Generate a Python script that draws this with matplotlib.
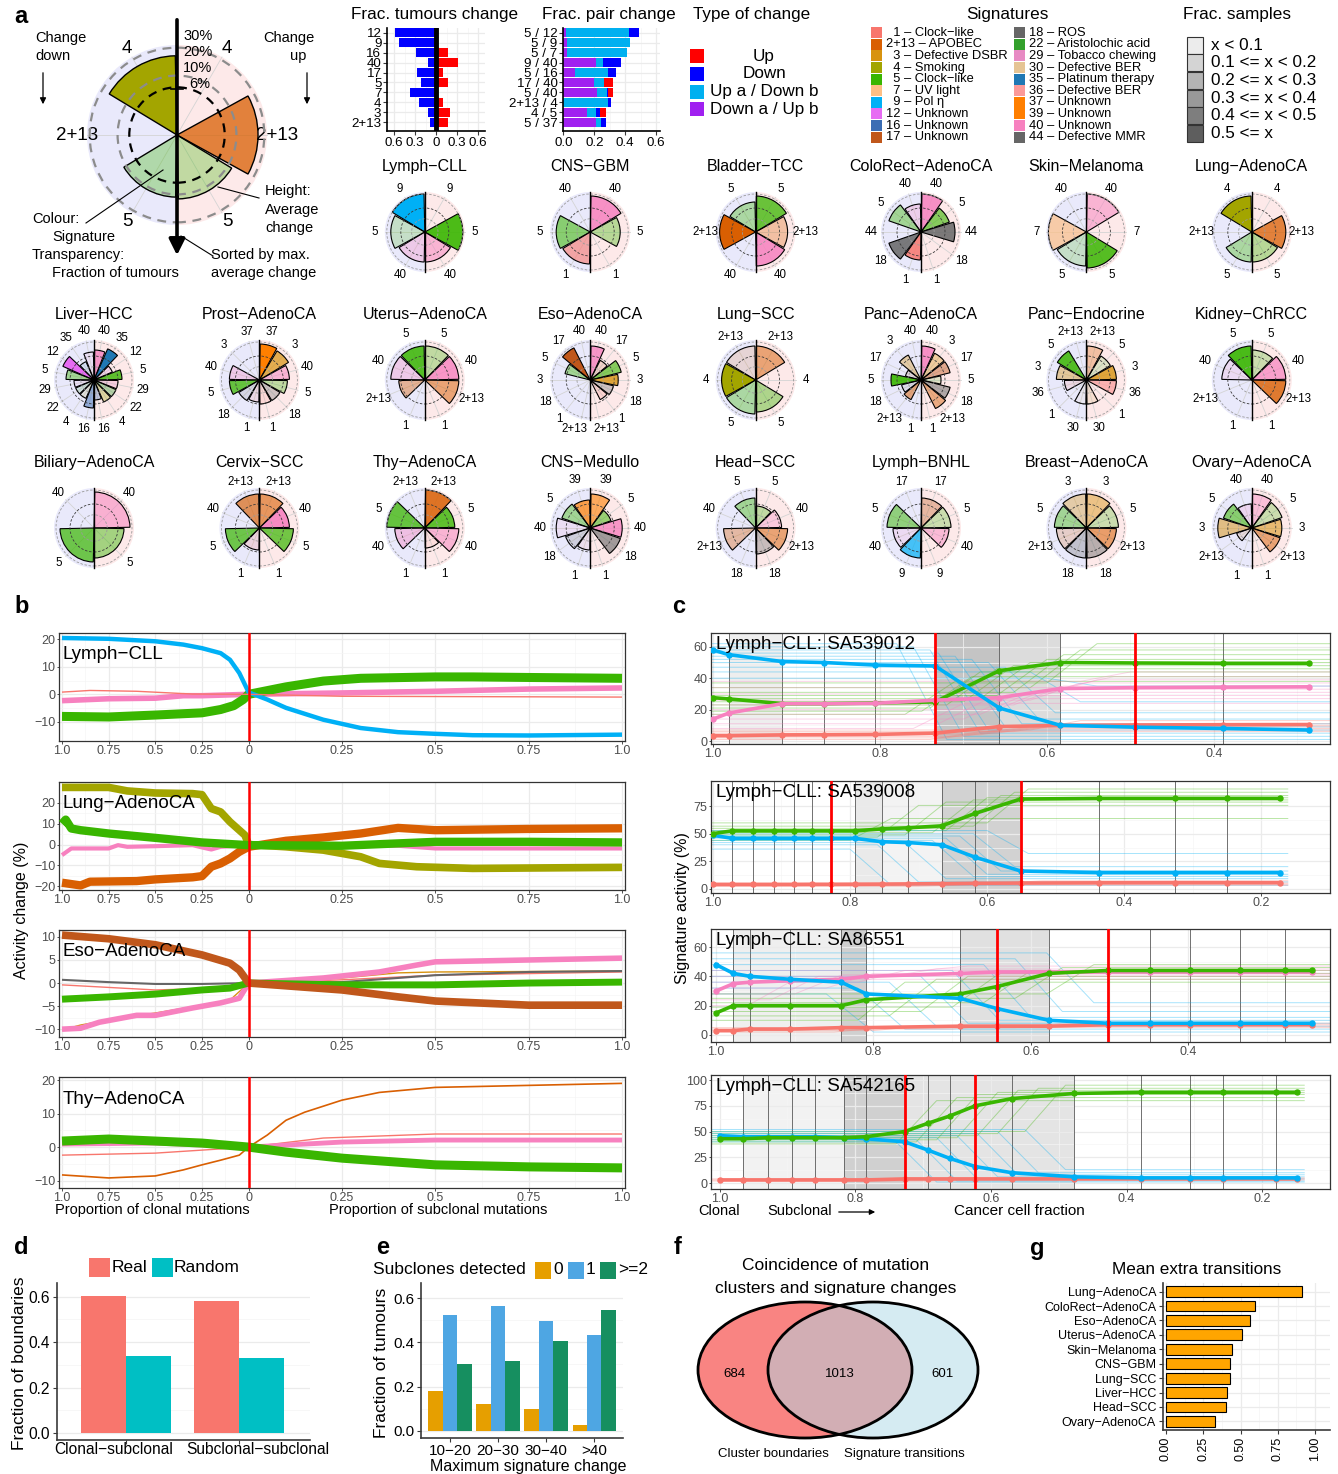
import numpy as np
import matplotlib
matplotlib.use("Agg")
import matplotlib.pyplot as plt
from matplotlib.patches import Wedge, Circle, Rectangle, Ellipse
from matplotlib.colors import to_rgba

plt.rcParams['font.family'] = ['Liberation Sans', 'DejaVu Sans']
plt.rcParams['axes.unicode_minus'] = True

W, H = 1338, 1474
fig = plt.figure(figsize=(W / 100, H / 100), dpi=100)


def px_axes(x0, y0, x1, y1):
    # axes placed by pixel box (top-left origin)
    return fig.add_axes([x0 / W, 1 - y1 / H, (x1 - x0) / W, (y1 - y0) / H])


# ---------------------------------------------------------------- data
sig_colours = {
    "1": "#f8766d", "2+13": "#d95f02", "3": "#d8930f", "4": "#a3a500", "5": "#39b600",
    "7": "#fdbf85", "9": "#00b0f6", "12": "#e76bf3", "16": "#3b6db4", "17": "#c0571b",
    "18": "#666666", "22": "#33a02c", "29": "#e78ac3", "30": "#e5c494", "35": "#1f78b4",
    "36": "#fb9a99", "37": "#ff7f00", "39": "#ff7f00", "40": "#f781bf", "44": "#666666",
}
legend_sigs_1 = ["1", "2+13", "3", "4", "5", "7", "9", "12", "16", "17"]
legend_names_1 = ["Clock−like", "APOBEC", "Defective DSBR", "Smoking", "Clock−like",
                  "UV light", "Pol η", "Unknown", "Unknown", "Unknown"]
legend_sigs_2 = ["18", "22", "29", "30", "35", "36", "37", "39", "40", "44"]
legend_names_2 = ["ROS", "Aristolochic acid", "Tobacco chewing", "Defective BER",
                  "Platinum therapy", "Defective BER", "Unknown", "Unknown", "Unknown",
                  "Defective MMR"]

change_types = ["Up", "Down", "Up a / Down b", "Down a / Up b"]
change_colours = ["#ff0000", "#0000ff", "#00b0f0", "#a020f0"]

frac_sample_labels = ["x < 0.1", "0.1 <= x < 0.2", "0.2 <= x < 0.3", "0.3 <= x < 0.4",
                      "0.4 <= x < 0.5", "0.5 <= x"]
frac_sample_greys = ["#ececec", "#d4d4d4", "#b4b4b4", "#999999", "#7e7e7e", "#5e5e5e"]

# fraction of tumours with a signature change
tum_sigs = ["12", "9", "16", "40", "17", "5", "7", "4", "3", "2+13"]
tum_down = [-0.58, -0.53, -0.28, -0.11, -0.27, -0.21, -0.37, -0.25, -0.12, -0.08]
tum_up = [0.0, 0.03, 0.17, 0.31, 0.10, 0.17, 0.0, 0.10, 0.20, 0.17]

# fraction of paired changes
pair_labels = ["5 / 12", "5 / 9", "5 / 7", "9 / 40", "5 / 16", "17 / 40", "5 / 40",
               "2+13 / 4", "4 / 5", "5 / 37"]
pair_down_up = [0.015, 0.026, 0.02, 0.21, 0.073, 0.20, 0.215, 0.0, 0.15, 0.213]
pair_up_down = [0.411, 0.408, 0.39, 0.044, 0.213, 0.062, 0.069, 0.292, 0.06, 0.032]
pair_down = [0.064, 0.0, 0.0, 0.116, 0.052, 0.0, 0.006, 0.018, 0.027, 0.032]
pair_up = [0.0, 0.0, 0.0, 0.0, 0.0, 0.056, 0.028, 0.0, 0.04, 0.0]

# explanatory radar
big_sigs = ["4", "2+13", "5"]
big_up = [0.0, 0.9, 0.71]
big_up_alpha = [1.0, 0.75, 0.3]
big_down = [0.88, 0.0, 0.69]
big_down_alpha = [1.0, 1.0, 0.32]

# per tumour type radars
radar_titles = ["Lymph−CLL", "CNS−GBM", "Bladder−TCC", "ColoRect−AdenoCA", "Skin−Melanoma",
                "Lung−AdenoCA", "Liver−HCC", "Prost−AdenoCA", "Uterus−AdenoCA", "Eso−AdenoCA",
                "Lung−SCC", "Panc−AdenoCA", "Panc−Endocrine", "Kidney−ChRCC",
                "Biliary−AdenoCA", "Cervix−SCC", "Thy−AdenoCA", "CNS−Medullo", "Head−SCC",
                "Lymph−BNHL", "Breast−AdenoCA", "Ovary−AdenoCA"]
radar_sigs = [
    ["9", "5", "40"], ["40", "5", "1"], ["5", "2+13", "40"], ["40", "5", "44", "18", "1"],
    ["40", "7", "5"], ["4", "2+13", "5"],
    ["40", "35", "12", "5", "29", "22", "4", "16"], ["37", "3", "40", "5", "18", "1"],
    ["5", "40", "2+13", "1"], ["40", "17", "5", "3", "18", "1", "2+13"], ["2+13", "4", "5"],
    ["40", "3", "17", "5", "18", "2+13", "1"], ["2+13", "5", "3", "36", "1", "30"],
    ["5", "40", "2+13", "1"],
    ["40", "5"], ["2+13", "40", "5", "1"], ["2+13", "5", "40", "1"], ["39", "5", "40", "18", "1"],
    ["5", "40", "2+13", "18"], ["17", "5", "40", "9"], ["3", "5", "2+13", "18"],
    ["40", "5", "3", "2+13", "1"],
]
radar_up = [
    [0, 0.95, 0.75], [0.9, 0.75, 0], [0.9, 0.8, 0.85], [0.95, 0.75, 0.85, 0, 0],
    [0.95, 0, 0.9], [0, 0.85, 0.75],
    [0.75, 0.85, 0.5, 0.7, 0.6, 0.6, 0.6, 0.5], [0.9, 0.85, 0.75, 0.7, 0.6, 0.6],
    [0.85, 0.85, 0.85, 0], [0.85, 0.55, 0.8, 0.7, 0.6, 0.55, 0], [0.85, 0, 0.8],
    [0.85, 0.75, 0.75, 0.5, 0.75, 0.8, 0], [0.85, 0.7, 0.75, 0.75, 0, 0.6],
    [0.75, 0.85, 0.85, 0],
    [0.9, 0.75], [0.85, 0.75, 0.85, 0], [0.95, 0.75, 0.85, 0.5], [0.85, 0.55, 0.8, 0.8, 0],
    [0.55, 0.65, 0.8, 0.65], [0.75, 0.75, 0.7, 0], [0.85, 0.8, 0.75, 0.75],
    [0.85, 0.8, 0.75, 0.75, 0],
]
radar_up_alpha = [
    [0, 0.9, 0.5], [0.85, 0.35, 0], [0.75, 0.3, 0.85], [0.85, 0.6, 0.85, 0, 0],
    [0.5, 0, 0.85], [0, 0.75, 0.35],
    [0.8, 1.0, 0.15, 0.8, 0.3, 0.35, 0.3, 0.3], [1.0, 0.7, 0.5, 0.3, 0.3, 0.15],
    [0.3, 0.8, 0.5, 0], [0.8, 0.15, 0.6, 0.8, 0.3, 0.2, 0], [0.5, 0, 0.4],
    [0.85, 0.35, 0.45, 0.15, 0.5, 0.45, 0], [0.3, 0.15, 0.8, 0.7, 0, 0.3],
    [0.25, 0.7, 0.8, 0],
    [0.55, 0.45], [0.6, 0.9, 0.7, 0], [0.85, 0.8, 0.5, 0.1], [0.6, 0.5, 0.8, 0.6, 0],
    [0.3, 0.3, 0.5, 0.35], [0.35, 0.25, 0.45, 0], [0.45, 0.25, 0.55, 0.45],
    [0.4, 0.25, 0.55, 0.5, 0],
]
radar_down = [
    [0.95, 0.85, 0.75], [0, 0.85, 0.8], [0.75, 0.9, 0], [0.7, 0.85, 0, 0.85, 0.7],
    [0, 0.95, 0.85], [0.9, 0, 0.75],
    [0.7, 0.5, 0.85, 0.7, 0.5, 0.5, 0.5, 0.7], [0, 0, 0.75, 0.75, 0.6, 0.55],
    [0.85, 0.85, 0.65, 0], [0, 0.9, 0.65, 0, 0, 0, 0], [0.85, 0.85, 0.85],
    [0, 0.7, 0.4, 0.75, 0.5, 0.55, 0], [0, 0.85, 0.75, 0.55, 0, 0.6],
    [0.85, 0.75, 0, 0],
    [0, 0.85], [0.85, 0, 0.85, 0.55], [0, 0.95, 0.75, 0], [0.7, 0.75, 0.85, 0.65, 0.55],
    [0.75, 0, 0.8, 0], [0, 0.85, 0.7, 0.75], [0.85, 0.8, 0.75, 0.75],
    [0.6, 0.75, 0.85, 0.4, 0],
]
radar_down_alpha = [
    [1.0, 0.2, 0.3], [0, 0.55, 0.6], [0.35, 1.0, 0], [0.25, 0.4, 0, 0.85, 0.85],
    [0, 0.7, 0.2], [1.0, 0, 0.35],
    [0.1, 0.1, 1.0, 0.4, 0.1, 0.15, 0.1, 0.5], [0, 0, 0.3, 0.75, 0.15, 0.15],
    [0.85, 0.3, 0.4, 0], [0, 1.0, 0.4, 0, 0, 0, 0], [0.15, 1.0, 0.35],
    [0, 0.35, 0.1, 0.9, 0.1, 0.5, 0], [0, 0.85, 0.4, 0.2, 0, 0.1],
    [0.9, 0.15, 0, 0],
    [0, 0.7], [0.65, 0, 0.7, 0.2], [0, 0.75, 0.4, 0], [0.7, 0.4, 0.1, 0.2, 0.1],
    [0.4, 0, 0.35, 0], [0, 0.5, 0.15, 0.7], [0.35, 0.4, 0.2, 0.3],
    [0.2, 0.55, 0.5, 0.1, 0],
]

# panel b: average activity change along clonal (left) and subclonal (right) mutations
# (signature, line width, clonal proportions, change, subclonal proportions, change)
b_lymph_cll = [
    ("40", 4.0, [1.0, 0.75, 0.5, 0.35, 0.25, 0.0], [-2.3, -1.6, -1.4, -0.5, -0.5, 0.0],
     [0.25, 0.5, 0.75, 1.0], [0.5, 1.1, 1.9, 2.3]),
    ("5", 6.5, [1.0, 0.75, 0.5, 0.25, 0.15, 0.08, 0.03, 0.0],
     [-8.0, -8.2, -7.5, -6.7, -5.5, -4.1, -1.9, 0.0],
     [0.1, 0.2, 0.3, 0.5, 0.6, 0.75, 1.0], [2.7, 4.8, 5.8, 6.3, 6.3, 6.1, 5.8]),
    ("9", 3.2, [1.0, 0.75, 0.5, 0.35, 0.25, 0.15, 0.1, 0.05, 0.0],
     [20.4, 20.1, 19.2, 18.0, 16.7, 14.9, 12.5, 7.7, 0.7],
     [0.05, 0.1, 0.2, 0.3, 0.4, 0.5, 0.6, 0.75, 1.0],
     [-1.9, -4.9, -9.2, -12.2, -13.7, -14.3, -14.8, -14.9, -14.6]),
    ("1", 1.0, [1.0, 0.85, 0.6, 0.3, 0.0], [0.8, 1.4, 1.1, 0.1, 0.0],
     [0.25, 1.0], [-0.7, -1.0]),
]
b_lung_adeno = [
    ("40", 3.0, [1.0, 0.95, 0.75, 0.7, 0.65, 0.5, 0.3, 0.25, 0.2, 0.15, 0.0],
     [-5.1, -1.9, -1.9, -0.3, -1.1, -0.8, -0.3, -1.4, -2.4, -1.1, -0.3],
     [0.4, 0.5, 1.0], [-0.6, -1.9, -1.9]),
    ("4", 5.5, [1.0, 0.75, 0.65, 0.5, 0.3, 0.25, 0.2, 0.15, 0.1, 0.05, 0.02, 0.0],
     [27.5, 27.5, 25.8, 24.8, 24.5, 24.0, 17.3, 15.7, 10.9, 6.9, 4.5, 0.0],
     [0.1, 0.2, 0.3, 0.35, 0.45, 0.6, 1.0], [-1.1, -2.7, -5.9, -9.1, -10.7, -11.5, -11.0]),
    ("2+13", 6.0, [1.0, 0.9, 0.85, 0.6, 0.5, 0.3, 0.25, 0.2, 0.15, 0.1, 0.05, 0.0],
     [-18.4, -19.7, -17.9, -17.6, -16.8, -15.8, -15.2, -10.7, -9.1, -6.7, -3.5, -1.1],
     [0.1, 0.2, 0.3, 0.4, 0.5, 0.75, 1.0], [1.8, 3.4, 5.3, 8.0, 6.9, 7.5, 7.8]),
    ("5", 6.0, [1.0, 0.98, 0.95, 0.9, 0.75, 0.5, 0.25, 0.0],
     [10.0, 12.0, 7.7, 6.9, 5.3, 3.2, 1.0, -0.3],
     [0.25, 0.5, 0.75, 1.0], [-0.6, 1.3, 1.3, 1.0]),
]
b_eso_adeno = [
    ("3", 1.0, [1.0, 0.9, 0.75, 0.5, 0.25, 0.1, 0.0], [-10.2, -9.1, -8.0, -6.5, -4.8, -3.7, 0.0],
     [0.25, 0.4, 0.5, 1.0], [1.1, 2.2, 2.4, 2.6]),
    ("1", 1.0, [1.0, 0.5, 0.15, 0.0], [-0.4, -1.5, -1.1, 0.0], [0.25, 0.5, 1.0], [0.7, 1.7, 2.4]),
    ("18", 1.5, [1.0, 0.75, 0.5, 0.25, 0.0], [0.7, 0.2, -0.2, -0.2, 0.0],
     [0.25, 0.5, 0.75, 1.0], [0.2, 1.7, 2.4, 2.6]),
    ("40", 4.0, [1.0, 0.9, 0.8, 0.6, 0.5, 0.3, 0.15, 0.05, 0.0],
     [-10.0, -9.8, -8.5, -7.0, -7.0, -5.4, -4.3, -3.3, 0.0],
     [0.2, 0.35, 0.45, 0.5, 0.75, 1.0], [1.1, 2.4, 3.9, 4.6, 5.0, 5.4]),
    ("5", 5.0, [1.0, 0.75, 0.5, 0.25, 0.1, 0.0], [-3.5, -3.0, -2.4, -1.5, -1.1, 0.0],
     [0.25, 0.5, 0.75, 1.0], [-0.4, -0.4, 0.0, 0.2]),
    ("17", 5.5, [1.0, 0.75, 0.5, 0.25, 0.1, 0.05, 0.0], [10.4, 9.6, 8.3, 6.1, 4.3, 2.8, 0.0],
     [0.25, 0.4, 0.5, 0.75, 1.0], [-1.5, -3.0, -3.9, -4.8, -4.8]),
]
b_thy_adeno = [
    ("2+13", 1.2, [1.0, 0.75, 0.5, 0.35, 0.25, 0.15, 0.05, 0.0],
     [-8.3, -9.2, -8.6, -6.8, -5.3, -3.9, -2.4, 0.0],
     [0.05, 0.1, 0.15, 0.25, 0.35, 0.5, 0.75, 1.0], [3.6, 8.0, 10.4, 14.0, 16.3, 17.8, 18.4, 19.0]),
    ("1", 1.0, [1.0, 0.5, 0.25, 0.0], [-2.4, -1.8, -0.9, 0.0], [0.2, 0.5, 1.0], [2.7, 3.9, 3.9]),
    ("40", 3.5, [1.0, 0.5, 0.0], [0.9, 1.2, 0.0], [0.25, 0.5, 1.0], [1.5, 2.1, 2.1]),
    ("5", 6.5, [1.0, 0.75, 0.5, 0.25, 0.0], [1.8, 2.4, 1.8, 1.2, 0.0],
     [0.1, 0.25, 0.5, 0.75, 1.0], [-1.5, -3.3, -5.3, -5.9, -6.2]),
]

# panel c: signature activity along cancer cell fraction for single tumours
c1_ccf = [1.0, 0.981, 0.917, 0.867, 0.806, 0.734, 0.657, 0.584, 0.494, 0.389, 0.286]
c1_sig9 = [58, 55, 50.6, 50, 48.4, 47.8, 21, 10, 8.8, 8, 7]
c1_sig5 = [27.6, 26.8, 23.8, 23.8, 24.2, 24.9, 44.8, 50, 49.7, 49.5, 49.5]
c1_sig40 = [14, 17.8, 23.8, 23.8, 24, 26, 27.6, 33.4, 34, 34.3, 34.5]
c1_sig1 = [3.4, 3.4, 3.9, 4, 4.2, 5, 9.2, 9.9, 10.2, 10.4, 10.5]
c1_boot = [
    ("9", [62, 60, 58, 56, 54, 52, 50, 47, 44, 40], [1, 3, 5, 7, 9, 11, 14, 18, 25, 35],
     [0.78, 0.76, 0.74, 0.73, 0.71, 0.69, 0.67, 0.65, 0.62, 0.60]),
    ("5", [17, 19, 21, 23, 25, 27, 29, 31, 34, 37], [38, 41, 44, 46, 48, 50, 52, 55, 58, 62],
     [0.77, 0.75, 0.74, 0.72, 0.70, 0.68, 0.66, 0.64, 0.62, 0.60]),
    ("40", [8, 11, 14, 17, 20, 23, 26, 30, 34, 38], [24, 27, 29, 31, 33, 35, 37, 39, 41, 44],
     [0.76, 0.73, 0.70, 0.68, 0.66, 0.64, 0.62, 0.60, 0.58, 0.56]),
    ("1", [1, 2, 3, 4, 5, 6, 7], [6, 7, 8, 9, 10, 11, 13], [0.74, 0.72, 0.70, 0.68, 0.66, 0.64, 0.62]),
]
c1_spans = [(0.981, 0.917, "#eeeeee"), (0.734, 0.657, "#c4c4c4"), (0.657, 0.584, "#dcdcdc")]
c1_red = [0.734, 0.494]

c2_ccf = [1.0, 0.972, 0.941, 0.911, 0.882, 0.855, 0.827, 0.793, 0.754, 0.715, 0.666, 0.617,
          0.551, 0.437, 0.326, 0.25, 0.173]
c2_sig5 = [50.2, 52.7, 52.7, 52.7, 52.7, 52.7, 52.7, 52.7, 54.5, 55.5, 57.3, 68.8, 81.8, 82.4,
           82.4, 82.4, 82.4]
c2_sig9 = [48.7, 45.9, 45.9, 45.9, 45.9, 45.9, 45.9, 45.9, 42.8, 42.0, 40.0, 28.5, 16.0, 14.6,
           14.6, 14.6, 14.6]
c2_sig1 = [3.7, 3.7, 3.7, 3.7, 3.7, 3.8, 3.8, 3.9, 4.0, 4.2, 4.5, 4.8, 5.0, 5.2, 5.3, 5.3, 5.3]
c2_boot = [
    ("5", [44, 47, 49, 51, 53, 55, 57, 60], [64, 76, 79, 81, 83, 85, 88, 91],
     [0.80, 0.76, 0.72, 0.68, 0.66, 0.64, 0.62, 0.60]),
    ("9", [36, 40, 42, 44, 46, 48, 50, 53], [3, 6, 9, 11, 13, 16, 20, 32],
     [0.80, 0.76, 0.72, 0.68, 0.66, 0.64, 0.62, 0.60]),
    ("1", [2, 3, 4, 5], [3, 4, 5, 7], [0.70, 0.66, 0.62, 0.58]),
]
c2_spans = [(0.793, 0.754, "#eaeaea"), (0.754, 0.666, "#f3f3f3"), (0.666, 0.551, "#d2d2d2")]
c2_red = [0.827, 0.551]

c3_ccf = [1.0, 0.978, 0.957, 0.906, 0.841, 0.809, 0.69, 0.643, 0.577, 0.502, 0.449, 0.398,
          0.334, 0.277, 0.243]
c3_sig9 = [48, 42, 40, 38, 36, 28, 25, 18, 10, 8, 8, 8, 8, 8, 8]
c3_sig5 = [15, 20, 20, 20, 20, 24, 28, 33, 42, 44, 44, 44, 44, 44, 44]
c3_sig40 = [30, 35, 36, 37, 38, 40, 42, 43, 43, 43, 43, 43, 43, 43, 43]
c3_sig1 = [3, 3, 4, 4, 5, 5, 6, 6, 6, 7, 7, 7, 7, 7, 7]
c3_boot = [
    ("9", [28, 32, 36, 40, 44, 48, 52, 56], [2, 4, 6, 8, 10, 12, 16, 22],
     [0.86, 0.82, 0.78, 0.74, 0.70, 0.66, 0.62, 0.58]),
    ("5", [10, 13, 16, 19, 22, 25, 28], [36, 38, 40, 42, 44, 46, 48],
     [0.82, 0.78, 0.74, 0.70, 0.66, 0.62, 0.58]),
    ("40", [20, 24, 28, 32, 36, 40, 44], [38, 40, 41, 42, 44, 45, 47],
     [0.96, 0.93, 0.90, 0.86, 0.82, 0.78, 0.74]),
    ("1", [2, 3, 4, 5], [5, 6, 7, 8], [0.85, 0.80, 0.70, 0.62]),
]
c3_spans = [(0.978, 0.841, "#efefef"), (0.841, 0.809, "#d0d0d0"), (0.69, 0.577, "#e0e0e0")]
c3_red = [0.643, 0.502]

c4_ccf = [1.0, 0.965, 0.929, 0.894, 0.859, 0.816, 0.784, 0.727, 0.693, 0.661, 0.623, 0.569,
          0.477, 0.378, 0.307, 0.258, 0.180, 0.149]
c4_sig5 = [43, 43, 44, 44, 44, 44, 45, 50, 58, 65, 75, 82, 87, 88, 88, 88, 88, 88]
c4_sig9 = [46, 45, 45, 45, 45, 44, 43, 40, 32, 24, 16, 10, 6, 5, 5, 5, 5, 5]
c4_sig1 = [3, 3, 3, 3, 3, 3, 3, 4, 4, 4, 4, 4, 4, 4, 4, 4, 4, 4]
c4_boot = [
    ("5", [38, 40, 42, 44, 46, 48, 50], [80, 83, 86, 88, 90, 92, 95],
     [0.74, 0.71, 0.68, 0.65, 0.62, 0.59, 0.55]),
    ("9", [40, 42, 44, 46, 48, 50, 52], [1, 2, 4, 6, 8, 10, 13],
     [0.74, 0.71, 0.68, 0.65, 0.62, 0.59, 0.55]),
    ("1", [2, 3, 4], [3, 4, 5], [0.70, 0.65, 0.60]),
]
c4_spans = [(0.965, 0.816, "#f2f2f2"), (0.816, 0.727, "#d0d0d0"), (0.727, 0.477, "#e4e4e4")]
c4_red = [0.727, 0.623]

# panel d
d_groups = ["Clonal−subclonal", "Subclonal−subclonal"]
d_real = [0.605, 0.583]
d_random = [0.337, 0.330]

# panel e
e_bins = ["10−20", "20−30", "30−40", ">40"]
e_zero = [0.18, 0.12, 0.10, 0.025]
e_one = [0.525, 0.565, 0.498, 0.432]
e_two = [0.30, 0.318, 0.404, 0.548]

# panel f
venn_clusters_only = 684
venn_both = 1013
venn_transitions_only = 601

# panel g
g_types = ["Lung−AdenoCA", "ColoRect−AdenoCA", "Eso−AdenoCA", "Uterus−AdenoCA", "Skin−Melanoma",
           "CNS−GBM", "Lung−SCC", "Liver−HCC", "Head−SCC", "Ovary−AdenoCA"]
g_extra = [0.91, 0.60, 0.565, 0.507, 0.445, 0.43, 0.43, 0.41, 0.40, 0.33]

LEFT_BG = "#e9e9fb"
RIGHT_BG = "#fde9e9"


# ---------------------------------------------------------------- helpers
def radar(ax, sigs, up, up_a, down, down_a, lab_r, lab_fs, edge_lw, rings, ring_lw,
          dash, centre_line=True, char_w=0.0):
    n = len(sigs)
    step = 180.0 / n
    ax.add_patch(Wedge((0, 0), 1.0, 90, 270, fc=LEFT_BG, ec="none", zorder=0))
    ax.add_patch(Wedge((0, 0), 1.0, -90, 90, fc=RIGHT_BG, ec="none", zorder=0))
    for i in range(n):
        phi = np.deg2rad((i + 0.5) * step)
        for side in (1, -1):
            ax.plot([0, side * np.sin(phi)], [0, np.cos(phi)], color="#d4d4d4", lw=0.6, zorder=1)
    gap = 1.2
    for i, s in enumerate(sigs):
        col = sig_colours[s]
        hi = 90 - i * step
        lo = 90 - (i + 1) * step
        if up[i] > 0:
            ax.add_patch(Wedge((0, 0), up[i], lo + gap, hi - gap, fc=to_rgba(col, up_a[i]),
                               ec="black", lw=edge_lw, zorder=2))
        if down[i] > 0:
            ax.add_patch(Wedge((0, 0), down[i], 180 - hi + gap, 180 - lo - gap,
                               fc=to_rgba(col, down_a[i]), ec="black", lw=edge_lw, zorder=2))
        phi = np.deg2rad((i + 0.5) * step)
        # keep the two labels of a sector near the vertical from running together
        lx = max(lab_r * np.sin(phi), len(s) * char_w / 2 + 0.1) if char_w else lab_r * np.sin(phi)
        for side in (1, -1):
            ax.text(side * lx, lab_r * np.cos(phi), s, ha="center",
                    va="center", fontsize=lab_fs)
    for r, c in rings:
        ax.add_patch(Circle((0, 0), r, fill=False, ec=c, ls=dash, lw=ring_lw, zorder=3))
    if centre_line:
        ax.plot([0, 0], [-1, 1], color="black", lw=1.0, zorder=4)


def gg_style(ax):
    ax.set_facecolor("white")
    ax.grid(True, which="major", color="#ebebeb", lw=0.9)
    ax.grid(True, which="minor", color="#f5f5f5", lw=0.5)
    ax.set_axisbelow(True)
    for sp in ax.spines.values():
        sp.set_color("#333333")
        sp.set_linewidth(0.9)
    ax.tick_params(colors="#333333", labelcolor="#4d4d4d", labelsize=9, length=1.8,
                   width=0.6, pad=0.8)
    ax.tick_params(which="minor", length=0)


def minimal_axes(ax, labelsize):
    ax.set_facecolor("white")
    ax.grid(True, which="major", color="#ebebeb", lw=0.9)
    ax.grid(True, which="minor", color="#f4f4f4", lw=0.5)
    ax.set_axisbelow(True)
    for side in ("top", "right"):
        ax.spines[side].set_visible(False)
    for side in ("left", "bottom"):
        ax.spines[side].set_color("#3a3a3a")
        ax.spines[side].set_linewidth(1.2)
    ax.tick_params(colors="#3a3a3a", labelcolor="black", labelsize=labelsize, length=3,
                   width=0.8, pad=2)
    ax.tick_params(which="minor", length=0)


def draw_change(ax, series, ylim, yticks):
    gg_style(ax)
    for sig, lw, cp, cv, sp, sv in series:
        xs = [-p / 2 for p in cp] + list(sp)
        ys = list(cv) + list(sv)
        ax.plot(xs, ys, color=sig_colours[sig], lw=lw, solid_capstyle="butt",
                solid_joinstyle="round", zorder=3)
    ax.axvline(0, color="#ff0000", lw=1.8, zorder=5)
    ax.set_xlim(-0.508, 1.008)
    ax.set_ylim(*ylim)
    ax.set_xticks([-0.5, -0.375, -0.25, -0.125, 0, 0.25, 0.5, 0.75, 1.0])
    ax.set_xticklabels(["1.0", "0.75", "0.5", "0.25", "0", "0.25", "0.5", "0.75", "1.0"])
    ax.set_xticks([-0.4375, -0.3125, -0.1875, -0.0625, 0.125, 0.375, 0.625, 0.875], minor=True)
    ax.set_yticks(yticks)
    ax.set_yticks([(a + b) / 2 for a, b in zip(yticks[:-1], yticks[1:])], minor=True)


def draw_ccf(ax, ccf, means, boot, spans, reds, xlim, ylim, yticks, xticks):
    gg_style(ax)
    for a, b, c in spans:
        ax.axvspan(b, a, color=c, lw=0, zorder=0.1)
    for x in ccf[1:-1]:
        ax.axvline(x, color="#5a5a5a", lw=0.6, zorder=1)
    for sig, before, after, switch in boot:
        for b0, a0, s0 in zip(before, after, switch):
            ax.plot([xlim[0], s0, s0 - 0.06, xlim[1]], [b0, b0, a0, a0],
                    color=sig_colours[sig], lw=0.7, alpha=0.35, zorder=2)
    for sig, vals in means:
        ax.plot(ccf, vals, color=sig_colours[sig], lw=2.6, marker="o", ms=3.6, zorder=4)
    for r in reds:
        ax.axvline(r, color="#ff0000", lw=2, zorder=5)
    ax.set_xlim(*xlim)
    ax.set_ylim(*ylim)
    ax.set_xticks(xticks)
    ax.set_xticklabels([f"{t:.1f}" for t in xticks])
    ax.set_xticks([t - 0.1 for t in xticks], minor=True)
    ax.set_yticks(yticks)
    ax.set_yticks([(a + b) / 2 for a, b in zip(yticks[:-1], yticks[1:])], minor=True)


# ---------------------------------------------------------------- panel a
ax_big = px_axes(47, 5, 307, 265)
ax_big.set_xlim(-1.444, 1.444)
ax_big.set_ylim(-1.444, 1.444)
ax_big.axis("off")
radar(ax_big, big_sigs, big_up, big_up_alpha, big_down, big_down_alpha, 1.11, 13.5, 1.0,
      [(0.53, "black"), (0.66, "#8c8c8c"), (0.97, "#8c8c8c")], 1.6, (0, (4, 3)),
      centre_line=False)

row_y = [232, 380, 528]
col_x = [94 + 165.4 * k for k in range(8)]
slots = [(0, k) for k in range(2, 8)] + [(1, k) for k in range(8)] + [(2, k) for k in range(8)]
radar_centres = []
for idx, (r, k) in enumerate(slots):
    cx, cy = col_x[k], row_y[r]
    radar_centres.append((cx, cy))
    ax = px_axes(cx - 60, cy - 60, cx + 60, cy + 60)
    ax.set_xlim(-1.5, 1.5)
    ax.set_ylim(-1.5, 1.5)
    ax.axis("off")
    radar(ax, radar_sigs[idx], radar_up[idx], radar_up_alpha[idx], radar_down[idx],
          radar_down_alpha[idx], 1.25, 8.3, 0.8,
          [(0.33, "#9a9a9a"), (0.6, "#3a3a3a"), (0.95, "#9a9a9a")], 0.6, (0, (3, 2)),
          char_w=0.15)

# fraction of tumours with a change
ax = px_axes(387, 28, 485, 131)
pos = np.arange(len(tum_sigs))
ax.barh(pos, tum_down, height=0.9, color="#0000ff", zorder=2)
ax.barh(pos, tum_up, height=0.9, color="#ff0000", zorder=2)
ax.axvline(0, color="black", lw=3.5, zorder=3)
ax.set_xlim(-0.7, 0.7)
ax.set_ylim(9.9, -0.5)
ax.set_yticks(pos)
ax.set_yticklabels(tum_sigs)
ax.set_xticks([-0.6, -0.3, 0, 0.3, 0.6])
ax.set_xticklabels(["0.6", "0.3", "0", "0.3", "0.6"])
ax.set_xticks([-0.45, -0.15, 0.15, 0.45], minor=True)
minimal_axes(ax, 9.6)
for side in ("left", "bottom"):
    ax.spines[side].set_color("black")
ax.tick_params(pad=1)

# fraction of pair changes
ax = px_axes(563, 28, 660, 131)
pos = np.arange(len(pair_labels))
left = np.zeros(len(pair_labels))
for vals, col in [(pair_down_up, "#a020f0"), (pair_up_down, "#00b0f0"),
                  (pair_down, "#0000ff"), (pair_up, "#ff0000")]:
    ax.barh(pos, vals, left=left, height=0.9, color=col, zorder=2)
    left = left + np.array(vals)
ax.set_xlim(-0.003, 0.626)
ax.set_ylim(9.9, -0.5)
ax.set_yticks(pos)
ax.set_yticklabels(pair_labels)
ax.set_xticks([0.0, 0.2, 0.4, 0.6])
ax.set_xticklabels(["0.0", "0.2", "0.4", "0.6"])
ax.set_xticks([0.1, 0.3, 0.5], minor=True)
minimal_axes(ax, 9.6)
for side in ("left", "bottom"):
    ax.spines[side].set_color("black")
ax.tick_params(pad=1)

# ---------------------------------------------------------------- panel b
b_boxes = [(59, 633, 625, 741), (59, 782, 625, 890), (59, 930, 625, 1037), (59, 1077, 625, 1188)]
b_series = [b_lymph_cll, b_lung_adeno, b_eso_adeno, b_thy_adeno]
b_ylims = [(-16.9, 22.2), (-21.9, 30.1), (-11.7, 11.5), (-12.2, 20.9)]
b_yticks = [[-10, 0, 10, 20], [-20, -10, 0, 10, 20], [-10, -5, 0, 5, 10], [-10, 0, 10, 20]]
b_names = ["Lymph−CLL", "Lung−AdenoCA", "Eso−AdenoCA", "Thy−AdenoCA"]
for box, ser, yl, yt, name in zip(b_boxes, b_series, b_ylims, b_yticks, b_names):
    ax = px_axes(*box)
    draw_change(ax, ser, yl, yt)
    ax.text(0.006, 0.8, name, transform=ax.transAxes, fontsize=13.5, ha="left", va="center",
            zorder=6)

# ---------------------------------------------------------------- panel c
c_boxes = [(711, 633, 1330, 744), (711, 781, 1330, 893), (711, 929, 1330, 1042),
           (711, 1075, 1330, 1189)]
c_setup = [
    (c1_ccf, [("5", c1_sig5), ("40", c1_sig40), ("1", c1_sig1), ("9", c1_sig9)], c1_boot,
     c1_spans, c1_red, (1.0024, 0.261), (-1.9, 68.8), [0, 20, 40, 60], [1.0, 0.8, 0.6, 0.4],
     "Lymph−CLL: SA539012"),
    (c2_ccf, [("1", c2_sig1), ("9", c2_sig9), ("5", c2_sig5)], c2_boot, c2_spans, c2_red,
     (1.0027, 0.1616), (-4.1, 98.3), [0, 25, 50, 75], [1.0, 0.8, 0.6, 0.4, 0.2],
     "Lymph−CLL: SA539008"),
    (c3_ccf, [("1", c3_sig1), ("40", c3_sig40), ("5", c3_sig5), ("9", c3_sig9)], c3_boot,
     c3_spans, c3_red, (1.0064, 0.22), (-4.8, 72.3), [0, 20, 40, 60], [1.0, 0.8, 0.6, 0.4],
     "Lymph−CLL: SA86551"),
    (c4_ccf, [("1", c4_sig1), ("9", c4_sig9), ("5", c4_sig5)], c4_boot, c4_spans, c4_red,
     (1.0127, 0.138), (-5.8, 104.9), [0, 25, 50, 75, 100], [1.0, 0.8, 0.6, 0.4, 0.2],
     "Lymph−CLL: SA542165"),
]
for box, (ccf, means, boot, spans, reds, xl, yl, yt, xt, name) in zip(c_boxes, c_setup):
    ax = px_axes(*box)
    draw_ccf(ax, ccf, means, boot, spans, reds, xl, yl, yt, xt)
    ax.text(0.008, 0.9, name, transform=ax.transAxes, fontsize=13.5, ha="left", va="center",
            zorder=6)

# ---------------------------------------------------------------- panel d
ax = px_axes(57, 1283, 310, 1440)
x = np.arange(len(d_groups))
ax.bar(x - 0.2, d_real, 0.4, color="#f8766d", zorder=2)
ax.bar(x + 0.2, d_random, 0.4, color="#00bfc4", zorder=2)
ax.set_xlim(-0.61, 1.63)
ax.set_ylim(-0.03, 0.66)
ax.set_xticks(x)
ax.set_xticklabels(["", ""])
ax.set_yticks([0.0, 0.2, 0.4, 0.6])
ax.set_yticklabels(["0.0", "0.2", "0.4", "0.6"])
ax.set_yticks([0.1, 0.3, 0.5], minor=True)
minimal_axes(ax, 11.2)
ax.grid(False, axis="x", which="both")

# ---------------------------------------------------------------- panel e
ax = px_axes(421, 1283, 623, 1438)
x = np.arange(len(e_bins))
ax.bar(x - 0.3, e_zero, 0.3, color="#e69f00", zorder=2)
ax.bar(x, e_one, 0.3, color="#4ea6e3", zorder=2)
ax.bar(x + 0.3, e_two, 0.3, color="#168f60", zorder=2)
ax.set_xlim(-0.6, 3.6)
ax.set_ylim(-0.032, 0.668)
ax.set_xticks(x)
ax.set_xticklabels(e_bins)
ax.set_yticks([0.0, 0.2, 0.4, 0.6])
ax.set_yticklabels(["0.0", "0.2", "0.4", "0.6"])
ax.set_yticks([0.1, 0.3, 0.5], minor=True)
minimal_axes(ax, 11)
ax.tick_params(axis="x", pad=1)
ax.grid(False, axis="x", which="both")

# ---------------------------------------------------------------- panel f
ax = px_axes(690, 1295, 990, 1445)
ax.set_xlim(690, 990)
ax.set_ylim(1445, 1295)
ax.axis("off")
ax.add_patch(Ellipse((805, 1370), 214, 136, fc="#f98482", ec="none", zorder=1))
ax.add_patch(Ellipse((873, 1370), 210, 136, fc=to_rgba("#add8e6", 0.5), ec="none", zorder=2))
ax.add_patch(Ellipse((805, 1370), 214, 136, fill=False, ec="black", lw=2, zorder=3))
ax.add_patch(Ellipse((873, 1370), 210, 136, fill=False, ec="black", lw=2, zorder=3))
ax.text(734, 1374, str(venn_clusters_only), fontsize=9.5, ha="center", va="center", zorder=4)
ax.text(840, 1374, str(venn_both), fontsize=9.5, ha="center", va="center", zorder=4)
ax.text(943, 1374, str(venn_transitions_only), fontsize=9.5, ha="center", va="center", zorder=4)

# ---------------------------------------------------------------- panel g
ax = px_axes(1163, 1283, 1330, 1430)
pos = np.arange(len(g_types))
ax.barh(pos, g_extra, height=0.75, color="#ffa500", edgecolor="black", lw=0.8, zorder=2)
ax.set_xlim(-0.02, 1.10)
ax.set_ylim(9.6, -0.6)
ax.set_yticks(pos)
ax.set_yticklabels(g_types)
ax.set_xticks([0.0, 0.25, 0.5, 0.75, 1.0])
ax.set_xticklabels(["0.00", "0.25", "0.50", "0.75", "1.00"], rotation=90)
ax.set_xticks([0.125, 0.375, 0.625, 0.875], minor=True)
minimal_axes(ax, 9)

# ---------------------------------------------------------------- annotations
ov = fig.add_axes([0, 0, 1, 1], zorder=10)
ov.set_xlim(0, W)
ov.set_ylim(H, 0)
ov.axis("off")


def txt(x, y, s, size, ha="center", va="center", **kw):
    ov.text(x, y, s, fontsize=size, ha=ha, va=va, **kw)


for lab, (lx, ly) in zip("abcdefg", [(14, 16), (14, 606), (672, 606), (14, 1248), (376, 1248),
                                      (674, 1248), (1030, 1248)]):
    txt(lx, ly, lab, 17, ha="left", fontweight="bold")

# explanatory radar annotations
ov.annotate("", xy=(177, 258), xytext=(177, 17),
            arrowprops=dict(arrowstyle="-|>", color="black", lw=2.6, mutation_scale=24))
for ax_x in (43, 307):
    ov.annotate("", xy=(ax_x, 107), xytext=(ax_x, 70),
                arrowprops=dict(arrowstyle="-|>", color="black", lw=0.9, mutation_scale=9))
txt(61, 38, "Change", 10.5)
txt(53, 56, "down", 10.5)
txt(289, 38, "Change", 10.5)
txt(306, 56, "up", 10.5, ha="right")
for i, s in enumerate(["30%", "20%", "10%", "6%"]):
    txt(183 + (6 if s == "6%" else 0), 36 + 16 * i, s, 10.5, ha="left")
ov.plot([171, 183], [89, 89], color="black", lw=1.2)
ov.plot([86, 163], [223, 170], color="black", lw=0.8)
ov.plot([259, 218], [198, 187], color="black", lw=0.8)
ov.plot([213, 181], [256, 236], color="black", lw=0.8)
txt(32, 219, "Colour:", 10.5, ha="left")
txt(52, 237, "Signature", 10.5, ha="left")
txt(32, 255, "Transparency:", 10.5, ha="left")
txt(52, 273, "Fraction of tumours", 10.5, ha="left")
txt(265, 191, "Height:", 10.5, ha="left")
txt(265, 210, "Average", 10.5, ha="left")
txt(265, 228, "change", 10.5, ha="left")
txt(211, 255, "Sorted by max.", 10.5, ha="left")
txt(211, 273, "average change", 10.5, ha="left")

for (cx, cy), title in zip(radar_centres, radar_titles):
    txt(cx, cy - 66, title, 11.5)

# bar chart and legend titles
txt(435, 14, "Frac. tumours change", 12.3)
txt(609, 14, "Frac. pair change", 12.3)
txt(752, 14, "Type of change", 12.3)
txt(1007, 14, "Signatures", 12.3)
txt(1237, 14, "Frac. samples", 12.3)

for i, (lab, col) in enumerate(zip(change_types, change_colours)):
    yy = 56 + 17.8 * i
    ov.add_patch(Rectangle((690, yy - 7), 14, 14, fc=col, ec="none"))
    txt(764, yy, lab, 12.3)

for i in range(10):
    yy = 32.7 + 11.6 * i
    s1 = legend_sigs_1[i]
    pad = "  " if len(s1) == 1 else ""
    ov.add_patch(Rectangle((871, yy - 5.5), 11, 11, fc=sig_colours[s1], ec="none"))
    txt(886, yy, f"{pad}{s1} – {legend_names_1[i]}", 9.3, ha="left")
    s2 = legend_sigs_2[i]
    ov.add_patch(Rectangle((1014, yy - 5.5), 11, 11, fc=sig_colours[s2], ec="none"))
    txt(1029, yy, f"{s2} – {legend_names_2[i]}", 9.3, ha="left")

for i, (lab, g) in enumerate(zip(frac_sample_labels, frac_sample_greys)):
    yy = 45 + 17.7 * i
    ov.add_patch(Rectangle((1187, yy - 8.5), 16, 17, fc=g, ec="#333333", lw=0.8))
    txt(1211, yy, lab, 12.3, ha="left")

# panel b / c axis texts
txt(152, 1210, "Proportion of clonal mutations", 10.5)
txt(438, 1210, "Proportion of subclonal mutations", 10.5)
txt(22, 910, "Activity change (%)", 11.5, rotation=90)
txt(683, 908, "Signature activity (%)", 11.5, rotation=90)
txt(719, 1211, "Clonal", 10.5)
txt(800, 1211, "Subclonal", 10.5)
ov.annotate("", xy=(878, 1212), xytext=(836, 1212),
            arrowprops=dict(arrowstyle="-|>", color="black", lw=0.9, mutation_scale=8))
txt(1019, 1211, "Cancer cell fraction", 11)

# panel d / e / f / g texts
txt(20, 1363, "Fraction of boundaries", 12.5, rotation=90)
txt(114, 1450, d_groups[0], 11.2)
txt(258, 1450, d_groups[1], 11.2)
ov.add_patch(Rectangle((89, 1258), 21, 19, fc="#f8766d", ec="none"))
txt(112, 1267, "Real", 12.5, ha="left")
ov.add_patch(Rectangle((152, 1258), 21, 19, fc="#00bfc4", ec="none"))
txt(174, 1267, "Random", 12.5, ha="left")

txt(382, 1363, "Fraction of tumours", 12.5, rotation=90)
txt(528, 1467, "Maximum signature change", 11.5)
txt(373, 1270, "Subclones detected", 12.5, ha="left")
for sx, col, lab in [(535, "#e69f00", "0"), (568, "#4ea6e3", "1"), (600, "#168f60", ">=2")]:
    ov.add_patch(Rectangle((sx, 1262), 16, 17, fc=col, ec="none"))
    txt(sx + 18, 1270, lab, 12.5, ha="left")

txt(836, 1266, "Coincidence of mutation", 12.5)
txt(836, 1289, "clusters and signature changes", 12.5)
txt(773, 1454, "Cluster boundaries", 9.5)
txt(904, 1454, "Signature transitions", 9.5)

txt(1197, 1270, "Mean extra transitions", 12.3)

fig.savefig("out.png", dpi=100)
